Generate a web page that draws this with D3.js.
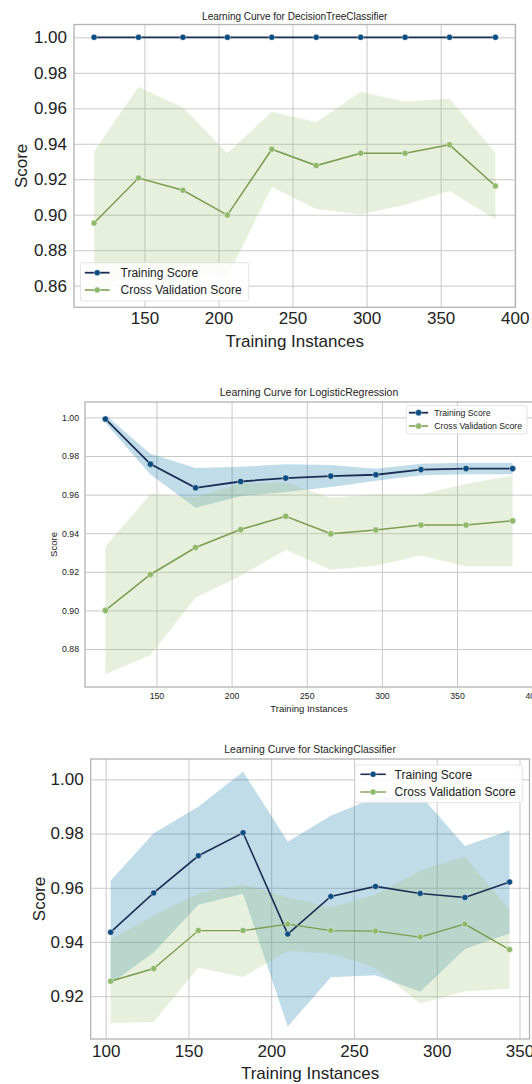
<!DOCTYPE html>
<html>
<head>
<meta charset="utf-8">
<script src="https://cdn.jsdelivr.net/npm/d3@7"></script>
<style>
html,body{margin:0;padding:0;background:#fff;}
svg{display:block;}
text{font-family:"Liberation Sans",Arial,sans-serif;fill:#222;}
</style>
</head>
<body>
<svg id="chart" width="532" height="1084"></svg>
<script>
// ---------- Data ----------
// Panel 1: DecisionTreeClassifier
const dtSizes = [116,146,176,206,236,266,296,326,356,387];
const dtTrainMean = [1,1,1,1,1,1,1,1,1,1];
const dtTrainStd = [0,0,0,0,0,0,0,0,0,0];
const dtCvMean = [0.8953,0.9207,0.9138,0.8998,0.9369,0.9277,0.9347,0.9347,0.9394,0.9162];
const dtCvStd = [0.0403,0.0513,0.0467,0.0349,0.0211,0.0245,0.0345,0.0291,0.0260,0.0188];

// Panel 2: LogisticRegression
const lrSizes = [116,146,176,206,236,266,296,326,356,387];
const lrTrainMean = [0.9992,0.9758,0.9635,0.9668,0.9686,0.9696,0.9703,0.9730,0.9735,0.9735];
const lrTrainStd = [0.0020,0.0054,0.0103,0.0076,0.0072,0.0057,0.0031,0.0030,0.0030,0.0030];
const lrCvMean = [0.9000,0.9186,0.9326,0.9419,0.9488,0.9397,0.9417,0.9442,0.9442,0.9464];
const lrCvStd = [0.0331,0.0417,0.0260,0.0239,0.0174,0.0187,0.0185,0.0158,0.0213,0.0235];

// Panel 3: StackingClassifier
const scSizes = [103,129,156,183,210,236,263,290,317,344];
const scTrainMean = [0.9436,0.9581,0.9718,0.9803,0.9429,0.9568,0.9605,0.9579,0.9564,0.9621];
const scTrainStd = [0.0190,0.0220,0.0181,0.0225,0.0341,0.0298,0.0328,0.0363,0.0190,0.0190];
const scCvMean = [0.9255,0.9302,0.9442,0.9442,0.9466,0.9442,0.9440,0.9418,0.9466,0.9372];
const scCvStd = [0.0154,0.0197,0.0137,0.0171,0.0099,0.0085,0.0135,0.0245,0.0248,0.0145];

// Tick values
const dtYTicks = [0.86,0.88,0.90,0.92,0.94,0.96,0.98,1.00];
const dtXTicks = [150,200,250,300,350,400];
const lrYTicks = [0.88,0.90,0.92,0.94,0.96,0.98,1.00];
const lrXTicks = [150,200,250,300,350,400];
const scYTicks = [0.92,0.94,0.96,0.98,1.00];
const scXTicks = [100,150,200,250,300,350];

const legendLabels = ["Training Score","Cross Validation Score"];
const titles = ["Learning Curve for DecisionTreeClassifier","Learning Curve for LogisticRegression","Learning Curve for StackingClassifier"];

// ---------- Styles ----------
const C = {
  trainLine:"#1b2e55", trainMarker:"#0b4c80", trainFill:"#0272a2",
  cvLine:"#7a9e50", cvMarker:"#8fb96a", cvFill:"#9fc377",
  grid:"#c9c9c9", frame:"#b3b3b3"
};

const svg = d3.select("#chart");

function drawPanel(p, idx){
  const g = svg.append("g");
  const x = d3.scaleLinear().domain(p.xDomain).range([p.left,p.right]);
  const y = d3.scaleLinear().domain(p.yDomain).range([p.bottom,p.top]);

  const clipId = "clip"+idx;
  svg.append("clipPath").attr("id",clipId).append("rect")
    .attr("x",p.left).attr("y",p.top).attr("width",p.right-p.left).attr("height",p.bottom-p.top);

  // grid
  g.append("g").attr("transform",`translate(0,${p.bottom})`)
    .call(d3.axisBottom(x).tickValues(p.xTicks.filter(v=>v>=p.xDomain[0]&&v<=p.xDomain[1])).tickSize(-(p.bottom-p.top)).tickFormat(""))
    .call(s=>{s.select(".domain").remove();s.selectAll("line").attr("stroke",C.grid).attr("stroke-width",1);});
  g.append("g").attr("transform",`translate(${p.left},0)`)
    .call(d3.axisLeft(y).tickValues(p.yTicks).tickSize(-(p.right-p.left)).tickFormat(""))
    .call(s=>{s.select(".domain").remove();s.selectAll("line").attr("stroke",C.grid).attr("stroke-width",1);});

  const plot = g.append("g").attr("clip-path",`url(#${clipId})`);
  const curves = [
    {mean:p.trainMean,std:p.trainStd,fill:C.trainFill,line:C.trainLine,marker:C.trainMarker},
    {mean:p.cvMean,std:p.cvStd,fill:C.cvFill,line:C.cvLine,marker:C.cvMarker}
  ];
  curves.forEach(c=>{
    const area = d3.area()
      .x((d,i)=>x(p.sizes[i]))
      .y0((d,i)=>y(c.mean[i]-c.std[i]))
      .y1((d,i)=>y(c.mean[i]+c.std[i]));
    plot.append("path").datum(c.mean).attr("d",area).attr("fill",c.fill).attr("fill-opacity",0.25);
  });
  curves.forEach((c,ci)=>{
    const line = d3.line().x((d,i)=>x(p.sizes[i])).y(d=>y(d));
    plot.append("path").datum(c.mean).attr("d",line).attr("fill","none")
      .attr("stroke",c.line).attr("stroke-width",ci===0?p.lw:p.lw*0.85);
    plot.selectAll(null).data(c.mean).enter().append("circle")
      .attr("cx",(d,i)=>x(p.sizes[i])).attr("cy",d=>y(d)).attr("r",p.mr)
      .attr("fill",c.marker).attr("stroke","#fff").attr("stroke-width",0.4);
  });

  // frame
  g.append("rect").attr("x",p.left).attr("y",p.top).attr("width",p.right-p.left).attr("height",p.bottom-p.top)
    .attr("fill","none").attr("stroke",C.frame).attr("stroke-width",1.3);

  // tick labels
  const yAx = g.append("g").attr("transform",`translate(${p.left},0)`)
    .call(d3.axisLeft(y).tickValues(p.yTicks).tickSize(0).tickPadding(p.tickPad).tickFormat(d3.format(".2f")));
  yAx.select(".domain").remove();
  yAx.selectAll("text").attr("font-size",p.tickFont).attr("font-family","Liberation Sans, Arial, sans-serif").attr("fill","#222");
  const xAx = g.append("g").attr("transform",`translate(0,${p.bottom})`)
    .call(d3.axisBottom(x).tickValues(p.xTicks).tickSize(0).tickPadding(p.xTickPad).tickFormat(d3.format("d")));
  xAx.select(".domain").remove();
  xAx.selectAll("text").attr("font-size",p.tickFont).attr("font-family","Liberation Sans, Arial, sans-serif").attr("fill","#222");

  // axis labels
  g.append("text").attr("x",(p.left+p.right)/2).attr("y",p.xLabelY).attr("text-anchor","middle")
    .attr("font-size",p.labelFont).text("Training Instances");
  g.append("text").attr("transform",`translate(${p.yLabelX},${(p.top+p.bottom)/2}) rotate(-90)`)
    .attr("text-anchor","middle").attr("font-size",p.labelFont).text("Score");
  // title
  g.append("text").attr("x",(p.left+p.right)/2).attr("y",p.titleY).attr("text-anchor","middle")
    .attr("font-size",p.titleFont).text(p.title);

  // legend
  const L = p.legend;
  const lg = g.append("g");
  lg.append("rect").attr("x",L.x0).attr("y",L.y0).attr("width",L.x1-L.x0).attr("height",L.y1-L.y0)
    .attr("rx",2).attr("fill","#fff").attr("fill-opacity",0.85).attr("stroke","#dcdcdc").attr("stroke-width",0.8);
  [C.trainLine,C.cvLine].forEach((col,i)=>{
    const yy = L.rows[i];
    lg.append("line").attr("x1",L.lx0).attr("x2",L.lx1).attr("y1",yy).attr("y2",yy)
      .attr("stroke",col).attr("stroke-width",i===0?p.lw:p.lw*0.85);
    lg.append("circle").attr("cx",(L.lx0+L.lx1)/2).attr("cy",yy).attr("r",p.mr)
      .attr("fill",i===0?C.trainMarker:C.cvMarker).attr("stroke","#fff").attr("stroke-width",0.4);
    lg.append("text").attr("x",L.tx).attr("y",yy).attr("dy","0.35em").attr("font-size",L.font).text(legendLabels[i]);
  });
}

const panels = [
  {title:titles[0], sizes:dtSizes, trainMean:dtTrainMean, trainStd:dtTrainStd, cvMean:dtCvMean, cvStd:dtCvStd,
   xDomain:[102.45,400.55], yDomain:[0.8478,1.00725], xTicks:dtXTicks, yTicks:dtYTicks,
   left:74, right:515.5, top:24.5, bottom:307.3,
   tickFont:17, labelFont:17, titleFont:10, tickPad:7, xTickPad:5, xLabelY:346.5, yLabelX:27, titleY:19.5,
   lw:1.8, mr:3,
   legend:{x0:80.4,x1:248.7,y0:262.7,y1:301,lx0:84.8,lx1:109.6,tx:120.5,rows:[272.7,290],font:12}},
  {title:titles[1], sizes:lrSizes, trainMean:lrTrainMean, trainStd:lrTrainStd, cvMean:lrCvMean, cvStd:lrCvStd,
   xDomain:[102.45,400.55], yDomain:[0.8603,1.0080], xTicks:lrXTicks, yTicks:lrYTicks,
   left:85, right:533, top:402, bottom:687,
   tickFont:8.7, labelFont:9.5, titleFont:10.5, tickPad:6, xTickPad:6, xLabelY:712, yLabelX:57, titleY:396,
   lw:1.8, mr:3.1,
   legend:{x0:406.2,x1:527,y0:405.7,y1:434,lx0:408.9,lx1:428.2,tx:434.3,rows:[412.7,426],font:8.7}},
  {title:titles[2], sizes:scSizes, trainMean:scTrainMean, trainStd:scTrainStd, cvMean:scCvMean, cvStd:scCvStd,
   xDomain:[90.95,356.05], yDomain:[0.9042,1.0075], xTicks:scXTicks, yTicks:scYTicks,
   left:90.7, right:529.5, top:759, bottom:1039,
   tickFont:17, labelFont:17, titleFont:10.4, tickPad:7, xTickPad:6, xLabelY:1079, yLabelX:45, titleY:753.3,
   lw:1.6, mr:3,
   legend:{x0:355,x1:522.7,y0:765,y1:802.7,lx0:360.4,lx1:385.8,tx:394.6,rows:[774.3,792],font:12}}
];
panels.forEach(drawPanel);
</script>
</body>
</html>
